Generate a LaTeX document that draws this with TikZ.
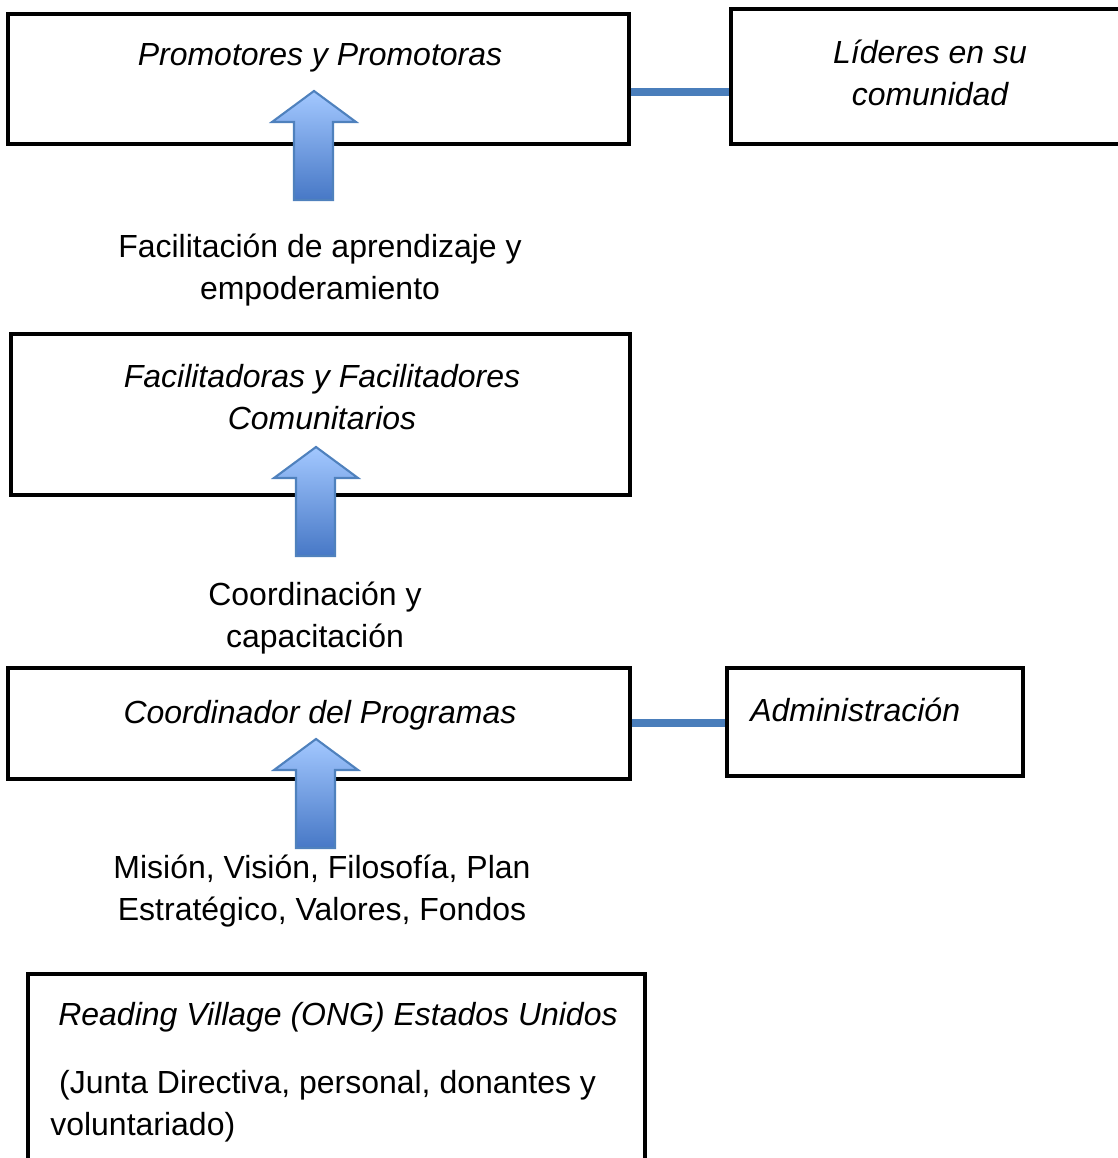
\documentclass[tikz,border=0pt]{standalone}
\usepackage{fontspec}
\setmainfont{Liberation Sans}
\usetikzlibrary{fit}
\definecolor{azulborde}{HTML}{4F81BD}
\definecolor{azulclaro}{HTML}{A3C8FF}
\definecolor{azuloscuro}{HTML}{4778C6}
\definecolor{azullinea}{HTML}{4A7EBB}
\tikzset{caja/.style = {draw, line width=1.8pt, inner sep=0pt}}
\tikzset{tcaja/.style = {font=\fontsize{18.2}{23.8}\selectfont\itshape, align=center, inner sep=0pt}}
\tikzset{texto/.style = {font=\fontsize{18.2}{23.8}\selectfont, align=center, inner sep=0pt}}
\tikzset{flecha/.style = {draw=azulborde, line width=1.2pt, line join=miter,
    top color=azulclaro, bottom color=azuloscuro}}
\tikzset{enlace/.style = {draw=azullinea, line width=4.6pt}}

\begin{document}
\begin{tikzpicture}[x=0.02cm, y=-0.02cm]
  \useasboundingbox (0,0) rectangle (1117,1158);
  % cajas
  \node[caja, fit={(8,14) (629,144)}] (prom) {};
  \node[caja, fit={(731,9) (1130,144)}] (lider) {};
  \node[caja, fit={(11,334) (630,495)}] (facil) {};
  \node[caja, fit={(8,668) (630,779)}] (coord) {};
  \node[caja, fit={(727,668) (1023,776)}] (admin) {};
  \node[caja, fit={(28,974) (645,1190)}] (rv) {};
  % textos de las cajas
  \node[tcaja] (promtxt) at (320,58) {Promotores y Promotoras};
  \node[tcaja] (lidertxt) at (930,73) {Líderes en su\\comunidad};
  \node[tcaja] (faciltxt) at (322,397) {Facilitadoras y Facilitadores\\Comunitarios};
  \node[tcaja] (coordtxt) at (320,715) {Coordinador del Programas};
  \node[tcaja, anchor=west] (admintxt) at (750,710) {Administración};
  \node[tcaja, anchor=west] (rvtxt) at (58,1017) {Reading Village (ONG) Estados Unidos};
  \node[texto, anchor=north west, align=left] (rvsub) at (50,1070)
    {\ (Junta Directiva, personal, donantes y\\voluntariado)};
  % textos entre niveles
  \node[texto] (aprend) at (320,270) {Facilitación de aprendizaje y\\empoderamiento};
  \node[texto] (capac) at (315,618) {Coordinación y\\capacitación};
  \node[texto] (mision) at (322,891) {Misión, Visión, Filosofía, Plan\\Estratégico, Valores, Fondos};
  % enlaces
  \draw[enlace] (prom.east |- 0,92) -- (lider.west |- 0,92);
  \draw[enlace] (coord.east |- 0,723) -- (admin.west |- 0,723);
  % flechas
  \foreach \x/\y in {314/91, 316/447, 316/739}
    \draw[flecha] (\x,\y) -- ++(42,31) -- ++(-23,0) -- ++(0,78)
      -- ++(-39,0) -- ++(0,-78) -- ++(-22,0) -- cycle;
\end{tikzpicture}
\end{document}
